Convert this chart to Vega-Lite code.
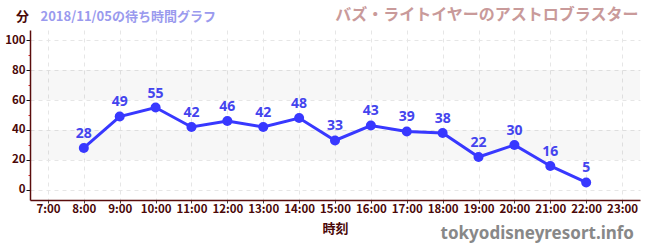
{
  "$schema": "https://vega.github.io/schema/vega-lite/v6.json",
  "width": 610,
  "height": 170,
  "autosize": {"type": "none"},
  "padding": {"left": 30, "top": 30, "right": 10, "bottom": 50},
  "background": "white",
  "config": {
    "font": "Noto Sans CJK JP",
    "view": {"stroke": null},
    "axis": {
      "labelFont": "Noto Sans CJK JP",
      "titleFont": "Noto Sans CJK JP",
      "labelColor": "#4a0808",
      "labelFontSize": 11.5,
      "labelFontWeight": "bold",
      "titleColor": "#4a0808",
      "titleFontSize": 13,
      "titleFontWeight": "bold",
      "domainColor": "#5a0d0d",
      "domainWidth": 1.5
    }
  },
  "datasets": {
    "waits": [
      {"hour": 8, "wait": 28},
      {"hour": 9, "wait": 49},
      {"hour": 10, "wait": 55},
      {"hour": 11, "wait": 42},
      {"hour": 12, "wait": 46},
      {"hour": 13, "wait": 42},
      {"hour": 14, "wait": 48},
      {"hour": 15, "wait": 33},
      {"hour": 16, "wait": 43},
      {"hour": 17, "wait": 39},
      {"hour": 18, "wait": 38},
      {"hour": 19, "wait": 22},
      {"hour": 20, "wait": 30},
      {"hour": 21, "wait": 16},
      {"hour": 22, "wait": 5}
    ],
    "bands": [
      {"lo": 20, "hi": 40},
      {"lo": 60, "hi": 80}
    ]
  },
  "title": {
    "text": "tokyodisneyresort.info",
    "orient": "bottom",
    "anchor": "end",
    "color": "#888888",
    "fontSize": 17,
    "fontWeight": "bold",
    "font": "Noto Sans",
    "dx": -6,
    "dy": -14
  },
  "resolve": {"axis": {"x": "independent", "y": "independent"}},
  "layer": [
    {
      "data": {"name": "bands"},
      "mark": {"type": "rect", "fill": "#000000", "fillOpacity": 0.03},
      "encoding": {
        "y": {"field": "lo", "type": "quantitative", "scale": {"domain": [-6.7, 106.7], "nice": false, "zero": false}, "axis": null},
        "y2": {"field": "hi"}
      }
    },
    {
      "data": {"name": "waits"},
      "mark": {"type": "line", "color": "#3838ff", "strokeWidth": 3},
      "encoding": {
        "x": {
          "field": "hour", "type": "quantitative",
          "scale": {"domain": [6.5, 23.5], "nice": false, "zero": false},
          "axis": {
            "values": [7, 8, 9, 10, 11, 12, 13, 14, 15, 16, 17, 18, 19, 20, 21, 22, 23],
            "labelExpr": "datum.value + ':00'",
            "title": "時刻",
            "titlePadding": 8,
            "tickColor": "#444444",
            "tickSize": 3,
            "labelPadding": 0,
            "grid": true,
            "gridColor": "#e6e6e6",
            "gridDash": [4, 4]
          }
        },
        "y": {
          "field": "wait", "type": "quantitative",
          "scale": {"domain": [-6.7, 106.7], "nice": false, "zero": false},
          "axis": {
            "values": [0, 10, 20, 30, 40, 50, 60, 70, 80, 90, 100],
            "labelExpr": "datum.value % 20 == 0 ? datum.label : ''",
            "tickColor": {"condition": {"test": "datum.value % 20 == 0", "value": "#111111"}, "value": "#dd2222"},
            "tickSize": {"condition": {"test": "datum.value % 20 == 0", "value": 4}, "value": 2},
            "labelPadding": 1,
            "grid": true,
            "gridColor": "#e6e6e6",
            "gridDash": [4, 4],
            "gridOpacity": {"condition": {"test": "datum.value % 20 == 0", "value": 1}, "value": 0},
            "title": "分",
            "titleAngle": 0,
            "titleAlign": "center",
            "titleBaseline": "middle",
            "titleX": -8,
            "titleY": -14
          }
        }
      }
    },
    {
      "data": {"name": "waits"},
      "mark": {"type": "circle", "size": 100, "opacity": 1, "color": "#3838ff"},
      "encoding": {
        "x": {"field": "hour", "type": "quantitative", "axis": null},
        "y": {"field": "wait", "type": "quantitative", "axis": null}
      }
    },
    {
      "data": {"name": "waits"},
      "mark": {"type": "text", "dy": -14, "fontSize": 14, "fontWeight": "bold", "color": "#4444ee", "font": "Noto Sans"},
      "encoding": {
        "x": {
          "field": "hour", "type": "quantitative",
          "axis": {
            "orient": "top", "labels": false, "ticks": false, "domain": false, "grid": false,
            "title": "バズ・ライトイヤーのアストロブラスター",
            "titleColor": "#c99a9a",
            "titleFontSize": 16,
            "titleAlign": "right",
            "titleBaseline": "middle",
            "titleAngle": 0,
            "titleX": 608,
            "titleY": -16
          }
        },
        "y": {
          "field": "wait", "type": "quantitative",
          "axis": {
            "orient": "right", "labels": false, "ticks": false, "domain": false, "grid": false,
            "title": "2018/11/05の待ち時間グラフ",
            "titleColor": "#9a9aee",
            "titleFontSize": 13,
            "titleAlign": "left",
            "titleBaseline": "middle",
            "titleAngle": 0,
            "titleX": -600,
            "titleY": -14
          }
        },
        "text": {"field": "wait", "type": "quantitative"}
      }
    }
  ]
}
